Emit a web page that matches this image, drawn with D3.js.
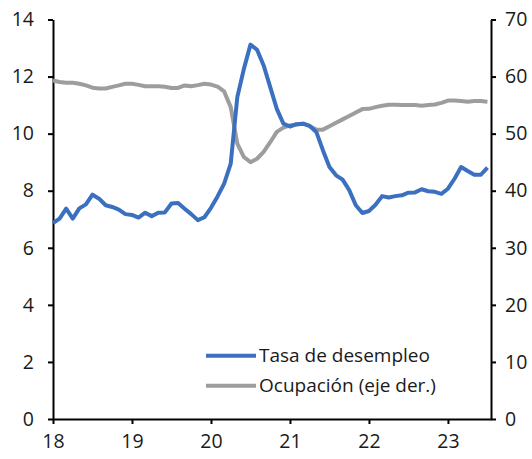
<!DOCTYPE html>
<html>
<head>
<meta charset="utf-8">
<script src="https://cdn.jsdelivr.net/npm/d3@7"></script>
<style>
  body { margin: 0; background: #fff; }
  text { font-family: "Open Sans", sans-serif; fill: #1a1a1a; }
</style>
</head>
<body>
<div id="chart"></div>
<script>

// monthly data, first point is january 2018
var startYear = 18;

var desempleo = [
  6.87, 7.02, 7.37, 7.02, 7.38, 7.52, 7.86, 7.72, 7.49, 7.43, 7.34, 7.18,
  7.15, 7.06, 7.23, 7.11, 7.23, 7.24, 7.55, 7.57, 7.37, 7.18, 6.97, 7.07,
  7.40, 7.80, 8.25, 8.95, 11.28, 12.27, 13.12, 12.94, 12.39, 11.63, 10.87, 10.35,
  10.25, 10.33, 10.35, 10.27, 10.06, 9.42, 8.83, 8.54, 8.39, 8.02, 7.49, 7.22,
  7.29, 7.51, 7.81, 7.76, 7.81, 7.84, 7.93, 7.94, 8.05, 7.98, 7.96, 7.89,
  8.07, 8.42, 8.83, 8.69, 8.56, 8.56, 8.81
];

var ocupacion = [
  59.3, 59.05, 58.9, 58.9, 58.75, 58.45, 58.05, 57.9, 57.9, 58.2, 58.45, 58.75,
  58.75, 58.55, 58.3, 58.3, 58.3, 58.2, 58.0, 58.0, 58.45, 58.3, 58.5, 58.75,
  58.6, 58.25, 57.4, 54.65, 48.25, 45.9, 45.0, 45.6, 46.8, 48.5, 50.3, 51.05,
  51.45, 51.6, 51.75, 51.3, 50.7, 50.7, 51.3, 51.9, 52.5, 53.1, 53.7, 54.3,
  54.35, 54.65, 54.9, 55.05, 55.05, 55.0, 55.0, 55.0, 54.9, 55.0, 55.1, 55.4,
  55.8, 55.8, 55.7, 55.6, 55.7, 55.7, 55.6
];

var xTicks = [18, 19, 20, 21, 22, 23];
var leftTicks = [0, 2, 4, 6, 8, 10, 12, 14];
var rightTicks = [0, 10, 20, 30, 40, 50, 60, 70];
var seriesNames = ["Tasa de desempleo", "Ocupación (eje der.)"];
var seriesColors = ["#3a70bf", "#9d9d9d"];

// chart size and plot area
var width = 532,
    height = 459,
    plotLeft = 53,
    plotRight = 491,
    plotTop = 19.5,
    plotBottom = 419;

var svg = d3.select("#chart")
            .append("svg")
            .attr("width", width)
            .attr("height", height);

// scales
var x = d3.scaleLinear()
          .domain([18, 23.545])
          .range([plotLeft, plotRight]);

var yLeft = d3.scaleLinear()
              .domain([0, 14])
              .range([plotBottom, plotTop]);

var yRight = d3.scaleLinear()
               .domain([0, 70])
               .range([plotBottom, plotTop]);

// helper to put month index on the x scale
function monthX(d, i) {
  return x(startYear + i / 12);
}

// axes
svg.append("g")
   .attr("transform", "translate(0," + plotBottom + ")")
   .call(d3.axisBottom(x)
           .tickValues(xTicks)
           .tickFormat(d3.format("d"))
           .tickSizeInner(5)
           .tickSizeOuter(0)
           .tickPadding(10));

svg.append("g")
   .attr("transform", "translate(" + plotLeft + ",0)")
   .call(d3.axisLeft(yLeft)
           .tickValues(leftTicks)
           .tickFormat(d3.format("d"))
           .tickSizeInner(5)
           .tickSizeOuter(0)
           .tickPadding(14));

svg.append("g")
   .attr("transform", "translate(" + plotRight + ",0)")
   .call(d3.axisRight(yRight)
           .tickValues(rightTicks)
           .tickFormat(d3.format("d"))
           .tickSizeInner(5)
           .tickSizeOuter(0)
           .tickPadding(9));

// style all axes the same way
svg.selectAll(".domain, .tick line")
   .attr("stroke", "#000")
   .attr("stroke-width", 2);

svg.selectAll(".tick text")
   .style("font-size", "19.5px")
   .style("font-family", "'Open Sans', sans-serif")
   .attr("fill", "#1a1a1a");

// lines
var lineLeft = d3.line()
                 .x(monthX)
                 .y(function(d) { return yLeft(d); });

var lineRight = d3.line()
                  .x(monthX)
                  .y(function(d) { return yRight(d); });

svg.append("path")
   .datum(ocupacion)
   .attr("fill", "none")
   .attr("stroke", seriesColors[1])
   .attr("stroke-width", 4)
   .attr("stroke-linejoin", "round")
   .attr("d", lineRight);

svg.append("path")
   .datum(desempleo)
   .attr("fill", "none")
   .attr("stroke", seriesColors[0])
   .attr("stroke-width", 4)
   .attr("stroke-linejoin", "round")
   .attr("d", lineLeft);

// legend
var legend = svg.selectAll(".legend")
                .data(seriesNames)
                .enter()
                .append("g")
                .attr("class", "legend")
                .attr("transform", function(d, i) {
                  return "translate(206," + (355.7 + i * 30) + ")";
                });

legend.append("line")
      .attr("x1", 0)
      .attr("x2", 50)
      .attr("stroke", function(d, i) { return seriesColors[i]; })
      .attr("stroke-width", 4);

legend.append("text")
      .attr("x", 53)
      .attr("dy", "0.35em")
      .style("font-size", "19px")
      .text(function(d) { return d; });

</script>
</body>
</html>
